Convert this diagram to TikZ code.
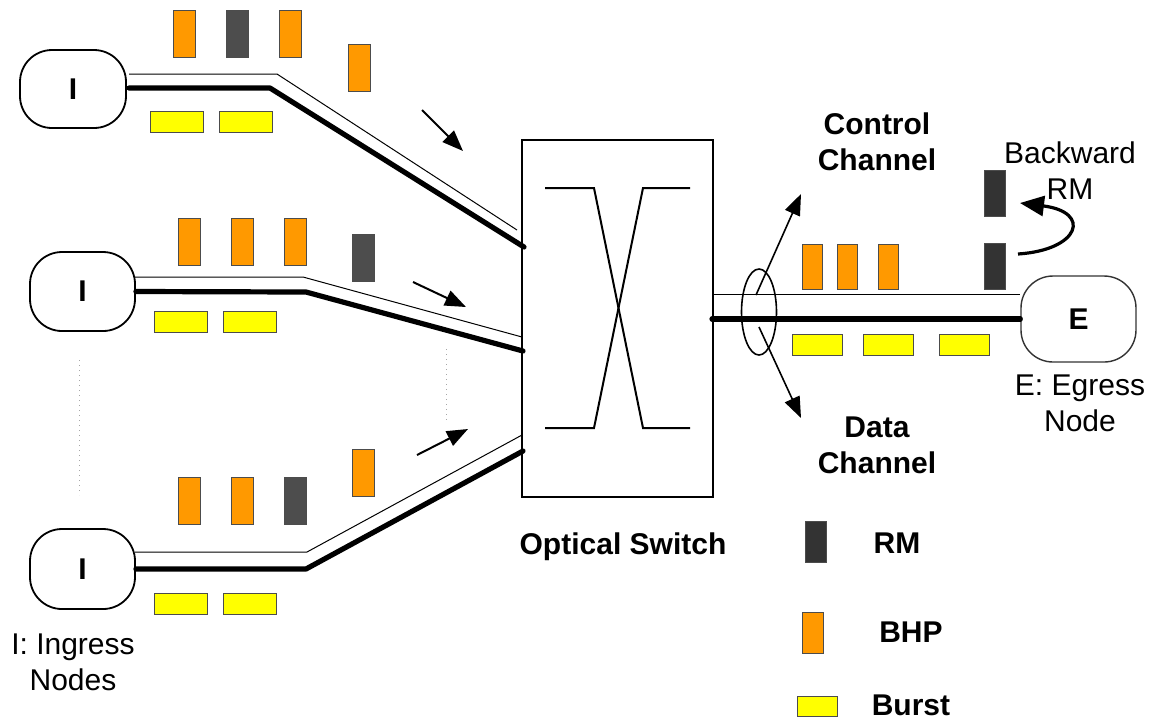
\documentclass[tikz,border=0pt]{standalone}
\usepackage{fontspec}
\setmainfont{Liberation Sans}
\usetikzlibrary{arrows.meta,shapes.geometric}
\definecolor{bhporange}{HTML}{FF9900}
\definecolor{rmgray}{HTML}{4D4D4D}
\definecolor{rmdark}{HTML}{333333}
\definecolor{burstyellow}{HTML}{FFFF00}
\begin{document}
\begin{tikzpicture}[x=0.5pt,y=-0.5pt,
  txt/.style={font=\fontsize{15}{18}\selectfont, align=center, inner sep=0pt},
  btxt/.style={font=\fontsize{15}{18}\selectfont\bfseries, align=center, inner sep=0pt},
  pkt/.style={draw=black!70, line width=0.5pt, inner sep=0pt, minimum width=11pt, minimum height=23.5pt},
  bhp/.style={pkt, fill=bhporange},
  rmk/.style={pkt, fill=rmgray},
  rmkd/.style={pkt, fill=rmdark},
  bst/.style={pkt, fill=burstyellow, minimum width=26.5pt, minimum height=10.5pt},
  edgenode/.style={draw, rounded corners=16pt, line width=0.9pt, minimum width=53pt,
    minimum height=39pt, inner sep=0pt, font=\fontsize{15}{18}\selectfont\bfseries},
  ctrl/.style={line width=0.5pt},
  datal/.style={line width=2.6pt, line cap=round, line join=round},
  flow/.style={line width=1pt, -{Triangle[length=10.5pt,width=8pt]}},
]
\useasboundingbox (0,0) rectangle (1157,720);

% ---------- ingress nodes ----------
\node[edgenode] (I1) at (73,89) {I};
\node[edgenode, minimum width=52.5pt, minimum height=39.5pt] (I2) at (82.5,291.5) {I};
\node[edgenode, minimum width=52.5pt, minimum height=40pt] (I3) at (82.5,569) {I};

% ---------- optical switch ----------
\node[draw, line width=0.9pt, minimum width=95.5pt, minimum height=178.5pt, inner sep=0pt] (sw) at (617.5,318.5) {};
\coordinate (xa) at (545,188); \coordinate (xb) at (594,188);
\coordinate (xc) at (643,428); \coordinate (xd) at (690,428);
\coordinate (xe) at (545,428); \coordinate (xf) at (594,428);
\coordinate (xg) at (643,188); \coordinate (xh) at (690,188);
\draw[line width=1pt] (xa) -- (xb) -- (xc) -- (xd);
\draw[line width=1pt] (xe) -- (xf) -- (xg) -- (xh);

% ---------- egress node ----------
\node[edgenode, draw=black!80, line width=0.7pt, minimum width=57.5pt, minimum height=43pt] (E) at (1078.5,319) {E};

% ---------- channel routes ----------
\coordinate (c1a) at (129,74);  \coordinate (c1b) at (277,74);  \coordinate (c1c) at (517,230);
\coordinate (d1a) at (129,88);  \coordinate (d1b) at (270,88);  \coordinate (d1c) at (524,247);
\coordinate (c2a) at (135,277); \coordinate (c2b) at (303,277); \coordinate (c2c) at (522,337);
\coordinate (d2b) at (306,292); \coordinate (d2c) at (523,351);
\coordinate (c3a) at (135,552); \coordinate (c3b) at (307,552); \coordinate (c3c) at (522,435);
\coordinate (d3b) at (306,569); \coordinate (d3c) at (523,451);
\coordinate (c4a) at (714,294); \coordinate (c4b) at (1020,294);
\coordinate (d4a) at (712,319);

\draw[ctrl] (c1a) -- (c1b) -- (c1c);
\draw[datal] (d1a) -- (d1b) -- (d1c);
\draw[ctrl] (c2a) -- (c2b) -- (c2c);
\draw[datal] (I2.east) -- (d2b) -- (d2c);
\draw[ctrl] (c3a) -- (c3b) -- (c3c);
\draw[datal] (I3.east) -- (d3b) -- (d3c);
\draw[ctrl] (c4a) -- (c4b);
\draw[datal] (d4a) -- (E.west);

% ---------- direction arrows ----------
\coordinate (f1a) at (422,110); \coordinate (f1b) at (463,151);
\coordinate (f2a) at (413,282); \coordinate (f2b) at (466,307);
\coordinate (f3a) at (417,455); \coordinate (f3b) at (468,429);
\draw[flow] (f1a) -- (f1b);
\draw[flow] (f2a) -- (f2b);
\draw[flow] (f3a) -- (f3b);

% ---------- elided nodes ----------
\coordinate (v1a) at (79,360);  \coordinate (v1b) at (79,495);
\coordinate (v2a) at (446,349); \coordinate (v2b) at (446,421);
\draw[gray!70, line width=0.5pt, dotted] (v1a) -- (v1b);
\draw[gray!70, line width=0.5pt, dotted] (v2a) -- (v2b);

% ---------- packets on ingress links ----------
\node[bhp] (p11) at (184.5,33.5) {};
\node[rmk] (p12) at (237.5,33.5) {};
\node[bhp] (p13) at (290,33.5) {};
\node[bhp] (p14) at (359,68) {};
\node[bst] (b11) at (176.5,121.5) {};
\node[bst] (b12) at (245.5,121.5) {};

\node[bhp] (p21) at (189,242) {};
\node[bhp] (p22) at (242,242) {};
\node[bhp] (p23) at (295,242) {};
\node[rmk] (p24) at (363.5,258) {};
\node[bst] (b21) at (181,321.5) {};
\node[bst] (b22) at (249.5,321.5) {};

\node[bhp] (p31) at (189,500.5) {};
\node[bhp] (p32) at (242,500.5) {};
\node[rmk] (p33) at (295,500.5) {};
\node[bhp] (p34) at (363.5,473) {};
\node[bst] (b31) at (181,603.5) {};
\node[bst] (b32) at (249.5,603.5) {};

% ---------- packets on egress link ----------
\node[bhp, minimum width=10pt, minimum height=22.5pt] (q1) at (812,266.5) {};
\node[bhp, minimum width=10pt, minimum height=22.5pt] (q2) at (847.5,266.5) {};
\node[bhp, minimum width=10pt, minimum height=22.5pt] (q3) at (888,266.5) {};
\node[rmkd, minimum width=10.5pt, minimum height=23pt] (r1) at (994.5,266.5) {};
\node[rmkd, minimum width=10.5pt, minimum height=23pt] (r2) at (994.5,193) {};
\node[bst, minimum width=25pt] (e1) at (817,344.5) {};
\node[bst, minimum width=25pt] (e2) at (888,344.5) {};
\node[bst, minimum width=25pt] (e3) at (964,344.5) {};

% ---------- channel bundle ----------
\node[draw, ellipse, line width=0.8pt, minimum width=17.5pt, minimum height=43pt, inner sep=0pt] (bundle) at (759,312) {};
\coordinate (ka) at (756,295); \coordinate (kb) at (801,194);
\coordinate (ma) at (759,327); \coordinate (mb) at (801,418);
\draw[flow, line width=0.8pt] (ka) -- (kb);
\draw[flow, line width=0.8pt] (ma) -- (mb);

% ---------- backward RM ----------
\coordinate (ba) at (1018,254); \coordinate (bb) at (1020,203);
\draw[line width=1.6pt, -{Triangle[length=12pt,width=10pt]}]
  (ba) .. controls (1080,250) and (1092,212) .. (bb);

% ---------- labels ----------
\node[btxt] (tctrl) at (877,142) {Control\\Channel};
\node[btxt] (tdata) at (877,445) {Data\\Channel};
\node[txt] (tback) at (1070,171) {Backward\\RM};
\node[txt] (tegr) at (1080,403) {E: Egress\\Node};
\node[txt] (ting) at (73,662) {I: Ingress\\Nodes};
\node[btxt] (tsw) at (623,547) {Optical Switch};

% ---------- legend ----------
\node[rmkd, minimum width=10.5pt, minimum height=20.5pt] (lrm) at (815.5,541.5) {};
\node[bhp, minimum width=10.5pt, minimum height=20.5pt] (lbhp) at (812.5,632.5) {};
\node[bst, minimum width=20pt, minimum height=10pt] (lbst) at (817,706) {};
\node[btxt] (trm) at (897,543) {RM};
\node[btxt] (tbhp) at (911,632) {BHP};
\node[btxt] (tbst) at (911,705) {Burst};
\end{tikzpicture}
\end{document}
